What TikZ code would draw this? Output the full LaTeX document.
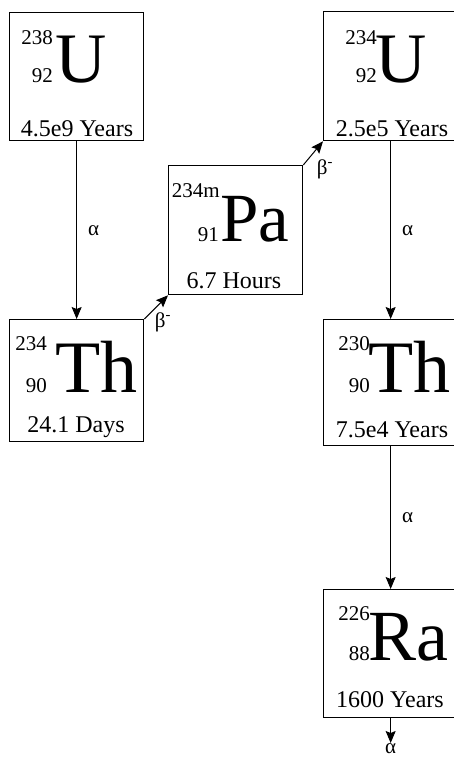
\documentclass[tikz,border=0pt]{standalone}
\usepackage{fontspec}
\setmainfont{Liberation Serif}
\usetikzlibrary{arrows.meta}
\begin{document}
\begin{tikzpicture}[x=1pt,y=-1pt,
  box/.style={draw,line width=1.3pt,minimum width=134pt,inner sep=0pt,anchor=north west},
  num/.style={inner sep=0pt,font=\rmfamily\fontsize{21}{21}\selectfont},
  lab/.style={inner sep=0pt,font=\rmfamily\fontsize{24}{24}\selectfont,anchor=base},
  sym/.style={inner sep=0pt,anchor=base west},
  greek/.style={inner sep=0pt,font=\rmfamily\fontsize{21}{21}\selectfont},
  arr/.style={line width=1pt,-{Stealth[length=12pt,width=10pt,inset=2pt]}}]
\useasboundingbox (0,0) rectangle (454,759);
\clip (0,0) rectangle (454,759);
% boxes
\node[box,minimum height=128pt] (u238) at (9,12) {};
\node[box,minimum height=122pt] (th234) at (9,319) {};
\node[box,minimum height=129pt] (pa) at (168,165) {};
\node[box,minimum height=129pt] (u234) at (323,11) {};
\node[box,minimum height=126pt] (th230) at (323,319) {};
\node[box,minimum height=128pt] (ra) at (323,589) {};
% U238
\node[num,anchor=base east] (u238a) at (53,45) {238};
\node[num,anchor=base east] (u238z) at (53,83) {92};
\node[sym,font=\rmfamily\fontsize{71}{71}\selectfont] (u238s) at (55,83) {U};
\node[lab] (u238h) at (77,137) {4.5e9 Years};
% Th234
\node[num,anchor=base east] (th234a) at (47,350) {234};
\node[num,anchor=base east] (th234z) at (47,392) {90};
\node[sym,font=\rmfamily\fontsize{74}{74}\selectfont] (th234s) at (55,392) {Th};
\node[lab] (th234h) at (76,432) {24.1 Days};
% Pa
\node[num,anchor=base east] (paa) at (220,197) {234m};
\node[num,anchor=base east] (paz) at (219,241) {91};
\node[sym,font=\rmfamily\fontsize{69}{69}\selectfont] (pas) at (220,241) {Pa};
\node[lab] (pah) at (234,288) {6.7 Hours};
% U234
\node[num,anchor=base east] (u234a) at (377,45) {234};
\node[num,anchor=base east] (u234z) at (377,83) {92};
\node[sym,font=\rmfamily\fontsize{71}{71}\selectfont] (u234s) at (375,83) {U};
\node[lab] (u234h) at (392,137) {2.5e5 Years};
% Th230
\node[num,anchor=base east] (th230a) at (370,350) {230};
\node[num,anchor=base east] (th230z) at (370,392) {90};
\node[sym,font=\rmfamily\fontsize{74}{74}\selectfont] (th230s) at (368,392) {Th};
\node[lab] (th230h) at (392,437) {7.5e4 Years};
% Ra
\node[num,anchor=base east] (raa) at (370,620) {226};
\node[num,anchor=base east] (raz) at (370,660) {88};
\node[sym,font=\rmfamily\fontsize{72}{72}\selectfont] (ras) at (368,660) {Ra};
\node[lab] (rah) at (390,707) {1600 Years};
% arrows
\coordinate (raend) at (ra.south |- 0,743);
\draw[arr] (u238.south) -- node[greek,right=11pt] {α} (th234.north);
\draw[arr] (th234.north east) -- (pa.south west);
\node[greek] (b1) at (163,322) {β\textsuperscript{-}};
\draw[arr] (pa.north east) -- (u234.south west);
\node[greek] (b2) at (325,169) {β\textsuperscript{-}};
\draw[arr] (u234.south) -- node[greek,right=11pt] {α} (th230.north);
\draw[arr] (th230.south) -- node[greek,right=11pt] {α} (ra.north);
\draw[arr] (ra.south) -- (raend);
\node[greek,anchor=north] (a4) at (raend) {α};
\end{tikzpicture}
\end{document}
